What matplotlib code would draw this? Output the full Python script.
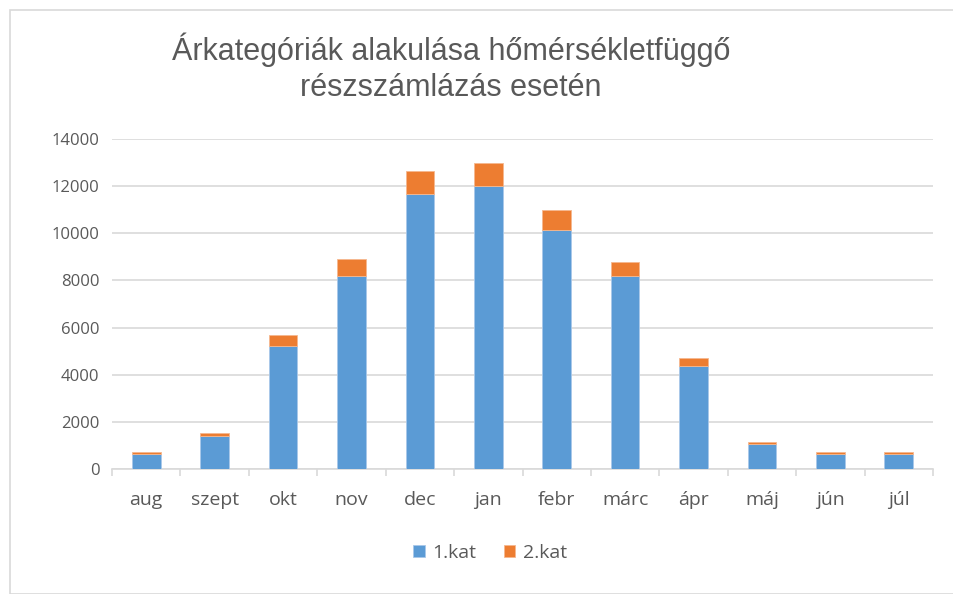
import matplotlib.pyplot as plt
import numpy as np
from matplotlib.patches import Rectangle

# adatok
honapok = ['aug', 'szept', 'okt', 'nov', 'dec', 'jan', 'febr', 'márc', 'ápr', 'máj', 'jún', 'júl']
kat1 = [620, 1400, 5200, 8200, 11670, 12020, 10120, 8200, 4360, 1040, 620, 620]
kat2 = [110, 110, 480, 720, 960, 960, 860, 600, 350, 110, 110, 110]
y_ticks = [0, 2000, 4000, 6000, 8000, 10000, 12000, 14000]

plt.rcParams['font.family'] = ['Open Sans', 'DejaVu Sans']

fig = plt.figure(figsize=(9.54, 5.94), dpi=100)
ax = fig.add_axes([112 / 954, 1 - 469 / 594, 821 / 954, 330 / 594])

x = np.arange(len(honapok))
ax.bar(x, kat1, width=0.42, color='#5B9BD5', edgecolor='#A9C8EA', linewidth=0.6, label='1.kat', zorder=3)
ax.bar(x, kat2, width=0.42, bottom=kat1, color='#ED7D31', edgecolor='#F5B88F', linewidth=0.6, label='2.kat', zorder=3)

ax.set_xlim(-0.5, len(honapok) - 0.5)
ax.set_ylim(0, 14000)
ax.set_yticks(y_ticks)
ax.set_yticklabels([str(v) for v in y_ticks])
ax.yaxis.grid(True, color='#D9D9D9', linewidth=1.2, zorder=0)
ax.tick_params(axis='y', length=0, pad=9, labelsize=12, labelcolor='#595959')

# kategória határoknál kis tickek
ax.set_xticks(np.arange(-0.5, len(honapok), 1.0))
ax.set_xticklabels([])
ax.set_xticks(x, minor=True)
ax.set_xticklabels(honapok, minor=True)
ax.tick_params(axis='x', which='major', length=5, color='#D9D9D9', width=1.2)
ax.tick_params(axis='x', which='minor', length=0, pad=16, labelsize=14, labelcolor='#595959')

for s in ['top', 'right', 'left']:
    ax.spines[s].set_visible(False)
ax.spines['bottom'].set_color('#D9D9D9')
ax.spines['bottom'].set_linewidth(1.2)

fig.text(451 / 954, 1 - 50 / 594, 'Árkategóriák alakulása hőmérsékletfüggő',
         ha='center', va='center', fontsize=22, color='#595959',
         family=['Liberation Sans', 'DejaVu Sans'])
fig.text(451 / 954, 1 - 88 / 594, 'részszámlázás esetén',
         ha='center', va='center', fontsize=22, color='#595959',
         family=['Liberation Sans', 'DejaVu Sans'])

leg = fig.legend(loc='center', bbox_to_anchor=(490 / 954, 1 - 553 / 594), ncol=2, frameon=False,
                 fontsize=14, handlelength=0.6, handleheight=0.6, handletextpad=0.4, columnspacing=1.4)
for t in leg.get_texts():
    t.set_color('#595959')

# diagram keret
fig.patches.append(Rectangle((10 / 954, 0), 1, 1 - 10 / 594, transform=fig.transFigure,
                             fill=False, edgecolor='#D9D9D9', linewidth=1.2))

fig.savefig('out.png', dpi=100)
